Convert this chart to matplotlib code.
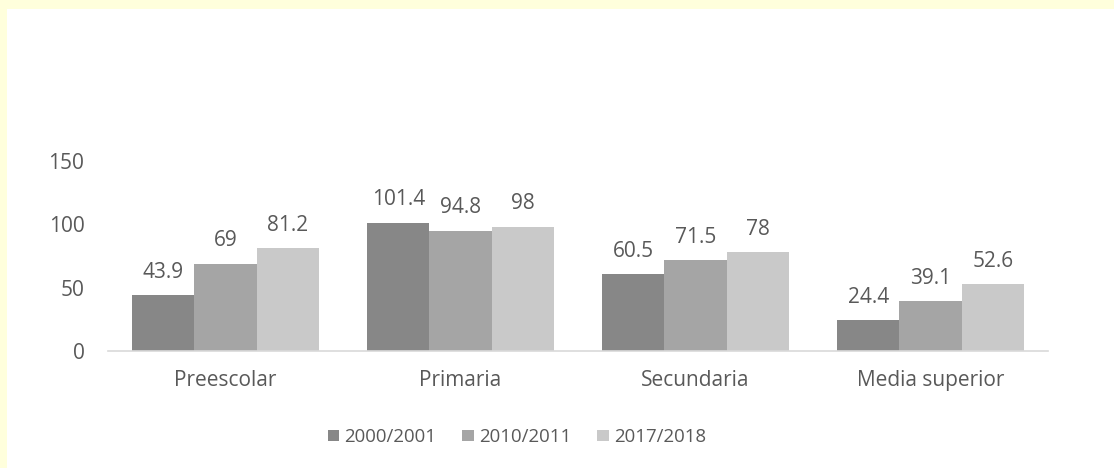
import matplotlib
matplotlib.use("Agg")
import matplotlib.pyplot as plt
import numpy as np
from matplotlib.patches import Rectangle

categories = ["Preescolar", "Primaria", "Secundaria", "Media superior"]
series_names = ["2000/2001", "2010/2011", "2017/2018"]
v2000 = [43.9, 101.4, 60.5, 24.4]
v2010 = [69, 94.8, 71.5, 39.1]
v2017 = [81.2, 98, 78, 52.6]
labels2000 = ["43.9", "101.4", "60.5", "24.4"]
labels2010 = ["69", "94.8", "71.5", "39.1"]
labels2017 = ["81.2", "98", "78", "52.6"]
yticks = [0, 50, 100, 150]

colors = ["#878787", "#a5a5a5", "#c9c9c9"]
txt = "#595959"
plt.rcParams['font.family'] = ['Open Sans', 'DejaVu Sans']
FS = 15
LFS = 13.4

W, H = 1114, 468
fig = plt.figure(figsize=(W/100, H/100), dpi=100, facecolor="#ffffdc")
fig.patches.append(Rectangle((7/W, 0), 1, 1 - 9/H, transform=fig.transFigure,
                             facecolor="white", edgecolor="none", zorder=-10))
ax = fig.add_axes([108/W, 1 - 351/H, (1048-108)/W, (351-161)/H])
ax.set_zorder(5)
ax.set_facecolor("none")

x = np.arange(len(categories))
bw = 0.265
series = [v2000, v2010, v2017]
labs = [labels2000, labels2010, labels2017]
for i, (vals, lab) in enumerate(zip(series, labs)):
    pos = x + (i - 1) * bw
    ax.bar(pos, vals, width=bw, color=colors[i], label=series_names[i], zorder=2)
    for p, v, l in zip(pos, vals, lab):
        ax.annotate(l, (p, v), xytext=(0, 9), textcoords="offset points",
                    ha="center", va="bottom", fontsize=FS, color=txt)

ax.set_xlim(-0.5, 3.5)
ax.set_ylim(0, 150)
ax.set_yticks(yticks)
ax.set_xticks(x)
ax.set_xticklabels(categories)
ax.tick_params(axis="both", length=0, labelsize=FS, colors=txt)
ax.tick_params(axis="x", pad=14)
ax.tick_params(axis="y", pad=17)
for s in ["top", "right", "left"]:
    ax.spines[s].set_visible(False)
ax.spines["bottom"].set_color("#d9d9d9")
ax.spines["bottom"].set_linewidth(1.2)

leg = fig.legend(loc="center", bbox_to_anchor=(517/W, 1 - 437/H), ncol=3, frameon=False,
                 fontsize=LFS, handlelength=0.6, handleheight=0.6, handletextpad=0.3,
                 columnspacing=1.4)
for t in leg.get_texts():
    t.set_color(txt)

fig.savefig("out.png", dpi=100, facecolor=fig.get_facecolor())
